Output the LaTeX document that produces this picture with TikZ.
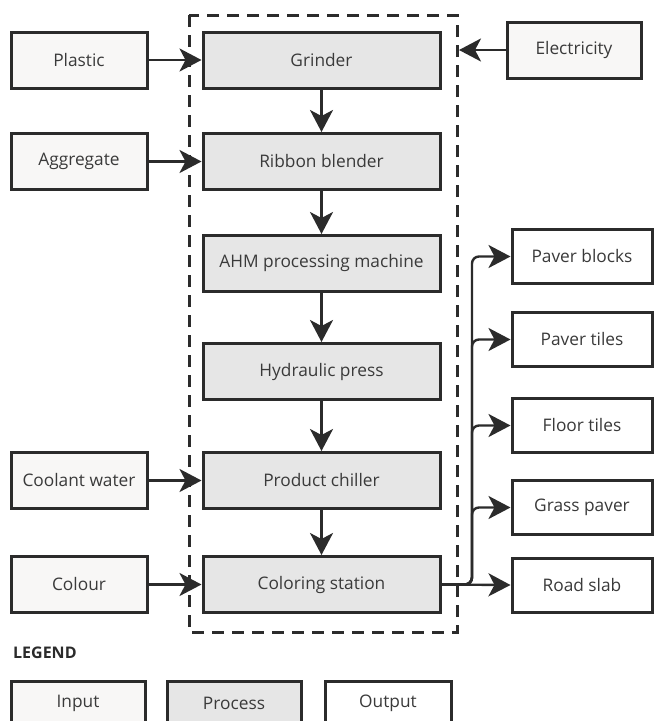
\documentclass[tikz,border=0pt]{standalone}
\usepackage{fontspec}
\setmainfont{Open Sans}
\usetikzlibrary{arrows.meta}
\definecolor{ink}{HTML}{2B2B2B}
\definecolor{inkt}{HTML}{3A3A3A}
\definecolor{inputfill}{HTML}{F8F7F6}
\definecolor{procfill}{HTML}{E6E6E6}

\begin{document}
\begin{tikzpicture}[x=1pt,y=-1pt,
  box/.style={draw=ink,line width=3pt,text=inkt,font=\fontsize{17.3}{20}\selectfont,inner sep=0pt},
  inbox/.style={box,fill=inputfill,minimum width=136pt,minimum height=56pt},
  procbox/.style={box,fill=procfill,minimum width=237pt,minimum height=56pt},
  outbox/.style={box,fill=white,minimum width=140pt,minimum height=54pt},
  flow/.style={draw=ink,line width=2.4pt,-{Stealth[length=22pt,width=23pt,inset=6pt]}}]
\clip (0,0) rectangle (654,721);
\fill[white] (0,0) rectangle (654,721);
% plant boundary
\draw [ink,line width=3pt,dash pattern=on 12pt off 8pt] (189,15) rectangle (457,632);
% inputs
\node [inbox] (plastic) at (79,60) {Plastic};
\node [inbox] (aggr) at (79,161.5) {Aggregate};
\node [inbox] (coolant) at (79,480.5) {Coolant water};
\node [inbox] (colour) at (79,584.5) {Colour};
\node [inbox,minimum width=134pt] (elec) at (574,50) {Electricity};
\coordinate (elecend) at (459,50);
% process
\node [procbox] (grind) at (321.5,60) {Grinder};
\node [procbox] (ribbon) at (321.5,161.5) {Ribbon blender};
\node [procbox] (ahm) at (321.5,263.5) {AHM processing machine};
\node [procbox] (press) at (321.5,371.5) {Hydraulic press};
\node [procbox] (chill) at (321.5,480.5) {Product chiller};
\node [procbox] (coloring) at (321.5,584.5) {Coloring station};
% outputs
\node [outbox] (pblock) at (582,256.5) {Paver blocks};
\node [outbox] (ptile) at (582,339.5) {Paver tiles};
\node [outbox] (ftile) at (582,425.5) {Floor tiles};
\node [outbox] (grass) at (582,507.5) {Grass paver};
\node [outbox] (road) at (582,585) {Road slab};
% flows
\draw [flow] (plastic) -- (grind);
\draw [flow] (aggr) -- (ribbon);
\draw [flow] (coolant) -- (chill);
\draw [flow] (colour) -- (coloring);
\draw [flow] (elec) -- (elecend);
\draw [flow] (grind) -- (ribbon);
\draw [flow] (ribbon) -- (ahm);
\draw [flow] (ahm) -- (press);
\draw [flow] (press) -- (chill);
\draw [flow] (chill) -- (coloring);
\draw [flow] (coloring.east) -- (road.west);
\foreach \o in {pblock,ptile,ftile,grass}
  \draw [flow,rounded corners=7pt] (coloring.east) -- (472,584.5) |- (\o.west);
% legend
\node [anchor=west,text=ink,font=\fontsize{16}{18}\selectfont\bfseries,inner sep=0pt] (legend) at (13,653) {LEGEND};
\node [inbox,minimum width=134pt,minimum height=44pt] (leg1) at (78,703) {Input};
\node [procbox,minimum width=134pt,minimum height=44pt] (leg2) at (234,703) {Process};
\node [outbox,minimum width=126pt,minimum height=44pt] (leg3) at (388,703) {Output};
\end{tikzpicture}
\end{document}
